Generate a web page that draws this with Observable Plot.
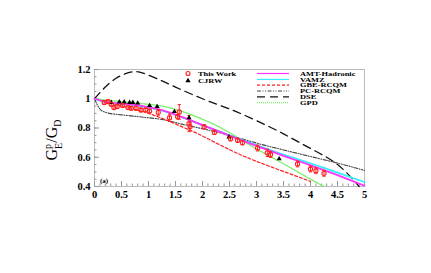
<!DOCTYPE html>
<html>
<head>
<meta charset="utf-8">
<script src="https://cdn.jsdelivr.net/npm/d3@7"></script>
<script src="https://cdn.jsdelivr.net/npm/@observablehq/plot@0.6"></script>
<style>
  html, body { margin: 0; padding: 0; background: #fff; }
  #chart { position: relative; width: 431px; height: 273px; }
</style>
</head>
<body>
<div id="chart"></div>
<script>
// ---- Data ----
const thisWorkQ2 = [0.18,0.25,0.31,0.36,0.42,0.52,0.62,0.68,0.77,0.86,0.95,1.02,1.18,1.39,1.54,1.57,1.75,1.77,2.03,2.22,2.52,2.65,2.74,3.02,3.20,3.26,3.76,4.00,4.10,4.25];
const thisWorkGe = [0.974,0.980,0.962,0.940,0.947,0.953,0.940,0.935,0.935,0.923,0.923,0.916,0.907,0.870,0.877,0.910,0.830,0.810,0.808,0.770,0.727,0.716,0.700,0.663,0.630,0.619,0.554,0.520,0.508,0.490];
const thisWorkErr = [0.012,0.012,0.012,0.012,0.012,0.012,0.012,0.012,0.012,0.012,0.012,0.012,0.020,0.025,0.015,0.050,0.055,0.030,0.015,0.015,0.015,0.015,0.015,0.020,0.025,0.020,0.020,0.020,0.020,0.020];

const cjrwQ2 = [0.31,0.46,0.55,0.65,0.71,0.80,1.02,1.16,1.48,1.75,2.49,3.42];
const cjrwGe = [0.975,0.978,0.978,0.974,0.974,0.970,0.953,0.946,0.912,0.870,0.739,0.589];

const amtQ2 = [0,0.25,0.5,0.75,1.0,1.25,1.5,1.75,2.0,2.5,3.0,3.5,4.0,4.5,5.0];
const amtGe = [1.0,0.975,0.967,0.958,0.943,0.922,0.892,0.857,0.820,0.748,0.678,0.610,0.545,0.478,0.405];
const vamzQ2 = [0,0.25,0.5,0.75,1.0,1.25,1.5,1.75,2.0,2.5,3.0,3.5,4.0,4.5,5.0];
const vamzGe = [1.0,0.972,0.964,0.955,0.940,0.919,0.889,0.855,0.820,0.750,0.683,0.618,0.558,0.495,0.430];
const gbeQ2 = [0,0.25,0.5,0.75,1.0,1.25,1.5,1.75,2.0,2.5,3.0,3.5,4.0];
const gbeGe = [1.0,0.972,0.952,0.928,0.900,0.866,0.828,0.788,0.745,0.652,0.572,0.503,0.435];
const pcQ2 = [0,0.1,0.2,0.3,0.5,0.8,1.0,1.3,1.6,2.0,2.5,3.0,3.5,4.0,4.5,5.0];
const pcGe = [1.0,0.930,0.908,0.898,0.890,0.878,0.870,0.855,0.828,0.795,0.750,0.697,0.650,0.605,0.560,0.510];
const dseQ2 = [0,0.2,0.4,0.6,0.75,0.9,1.2,1.5,2.0,2.5,3.0,3.5,4.0,4.5,4.9];
const dseGe = [1.0,1.08,1.14,1.175,1.185,1.175,1.13,1.08,1.0,0.93,0.85,0.76,0.66,0.55,0.40];
const gpdQ2 = [0,0.5,1.0,1.25,1.5,1.75,2.0,2.25,2.5,2.75,3.0,3.5,4.0,4.25];
const gpdGe = [1.0,0.98,0.962,0.950,0.928,0.897,0.860,0.818,0.768,0.712,0.657,0.555,0.45,0.40];

const xTicks = [0,0.5,1,1.5,2,2.5,3,3.5,4,4.5,5];
const yTicks = [0.4,0.6,0.8,1,1.2];
const xMinor = d3.range(0, 5.0001, 0.1);
const yMinor = d3.range(0.4, 1.2001, 0.05);

const legendMarkers = ["This Work", "CJRW"];
const legendLines = ["AMT-Hadronic", "VAMZ", "GBE-RCQM", "PC-RCQM", "DSE", "GPD"];

// ---- Build tables ----
const zip = (xs, ys) => xs.map((x, i) => ({x, y: ys[i]}));
const thisWork = thisWorkQ2.map((x, i) => ({x, y: thisWorkGe[i], lo: thisWorkGe[i] - thisWorkErr[i], hi: thisWorkGe[i] + thisWorkErr[i]}));
const cjrw = zip(cjrwQ2, cjrwGe);

const styles = {
  "AMT-Hadronic": {stroke: "#ff33ff", strokeWidth: 1.8, dash: null},
  "VAMZ": {stroke: "#33eeff", strokeWidth: 1.8, dash: null},
  "GBE-RCQM": {stroke: "#ff2222", strokeWidth: 1.2, dash: "3,2"},
  "PC-RCQM": {stroke: "#444", strokeWidth: 1.1, dash: "4,1.5,1,1.5,1,1.5"},
  "DSE": {stroke: "#111", strokeWidth: 1.3, dash: "8,5"},
  "GPD": {stroke: "#77ee66", strokeWidth: 1.3, dash: "1,1"}
};
const curves = {
  "AMT-Hadronic": zip(amtQ2, amtGe),
  "VAMZ": zip(vamzQ2, vamzGe),
  "GBE-RCQM": zip(gbeQ2, gbeGe),
  "PC-RCQM": zip(pcQ2, pcGe),
  "DSE": zip(dseQ2, dseGe),
  "GPD": zip(gpdQ2, gpdGe)
};

const W = 431, H = 273;
const mL = 94, mR = 67, mT = 69, mB = 87;
const fw = W - mL - mR, fh = H - mT - mB;
const font = "'Liberation Serif', 'DejaVu Serif', serif";
const tickColor = "#999";
const fmt = d => String(d);

const lineMarks = ["DSE", "PC-RCQM", "GBE-RCQM", "GPD", "VAMZ", "AMT-Hadronic"].map(k =>
  Plot.line(curves[k], {x: "x", y: "y", curve: "natural", stroke: styles[k].stroke, strokeWidth: styles[k].strokeWidth, strokeDasharray: styles[k].dash})
);

const plot = Plot.plot({
  width: W, height: H,
  marginLeft: mL, marginRight: mR, marginTop: mT, marginBottom: mB,
  style: {fontFamily: font, background: "white", overflow: "visible"},
  x: {domain: [0, 5]},
  y: {domain: [0.4, 1.2]},
  marks: [
    Plot.frame({stroke: "#bbb"}),
    Plot.ruleX(xMinor, {stroke: tickColor, insetTop: fh - 2.5}),
    Plot.ruleX(xTicks, {stroke: tickColor, insetTop: fh - 5}),
    Plot.ruleY(yMinor, {stroke: tickColor, insetRight: fw - 2.5}),
    Plot.ruleY(yTicks, {stroke: tickColor, insetRight: fw - 5}),
    Plot.axisX({ticks: xTicks, tickFormat: fmt, tickSize: 0, tickPadding: 4, fontSize: 10.5, fontWeight: "bold", label: null}),
    Plot.axisY({ticks: yTicks, tickFormat: fmt, tickSize: 0, tickPadding: 4, fontSize: 10.5, fontWeight: "bold", label: null}),
    ...lineMarks,
    Plot.ruleX(thisWork, {x: "x", y1: "lo", y2: "hi", stroke: "#ff2222", strokeWidth: 1}),
    Plot.link(thisWork, {x1: d => d.x - 0.03, x2: d => d.x + 0.03, y1: "hi", y2: "hi", stroke: "#ff2222", strokeWidth: 1}),
    Plot.link(thisWork, {x1: d => d.x - 0.03, x2: d => d.x + 0.03, y1: "lo", y2: "lo", stroke: "#ff2222", strokeWidth: 1}),
    Plot.dot(cjrw, {x: "x", y: "y", symbol: "triangle", fill: "black", r: 1.9}),
    Plot.dot(thisWork, {x: "x", y: "y", r: 2.1, stroke: "#ff2222", strokeWidth: 1.1, fill: "none"})
  ]
});

document.getElementById("chart").appendChild(plot);

// ---- Annotations: y label, "(a)" and legend ----
const svg = d3.select(plot);
const ylab = svg.append("text")
  .attr("transform", "translate(57,140) rotate(-90)")
  .attr("text-anchor", "middle")
  .attr("font-family", font)
  .attr("font-size", 16)
  .attr("fill", "black");
ylab.append("tspan").text("G");
ylab.append("tspan").attr("font-size", 10).attr("dy", -6).text("p");
ylab.append("tspan").attr("font-size", 10).attr("dx", -5).attr("dy", 11).text("E");
ylab.append("tspan").attr("dy", -5).text("/G");
ylab.append("tspan").attr("font-size", 10).attr("dy", 4).text("D");

svg.append("text").attr("x", 100).attr("y", 183).attr("text-anchor", "start")
  .attr("font-family", font).attr("font-size", 7).attr("font-weight", "bold").text("(a)");

const lg = svg.append("g").attr("font-family", font).attr("font-size", 6).attr("font-weight", "bold").attr("text-anchor", "start");
const rowY = [73.5, 79.4, 85.2, 91.0, 96.8, 102.6];
const addText = (x, y, t) => lg.append("text")
  .attr("transform", `translate(${x},${y}) scale(1.4,1)`).attr("dy", "0.35em").text(t);
legendMarkers.forEach((name, i) => {
  const y = rowY[0] + i * 7.3;
  if (i === 0) {
    lg.append("circle").attr("cx", 188).attr("cy", y).attr("r", 2).attr("fill", "none").attr("stroke", "#ff2222").attr("stroke-width", 1.1);
  } else {
    lg.append("path").attr("d", d3.symbol(d3.symbolTriangle, 12)()).attr("transform", `translate(188,${y})`).attr("fill", "black");
  }
  addText(198, y, name);
});
legendLines.forEach((name, i) => {
  const y = rowY[i], s = styles[name];
  lg.append("line").attr("x1", 257).attr("x2", 289).attr("y1", y).attr("y2", y)
    .attr("stroke", s.stroke).attr("stroke-width", Math.min(s.strokeWidth, 1.2)).attr("stroke-dasharray", s.dash);
  addText(300, y, name);
});
</script>
</body>
</html>
